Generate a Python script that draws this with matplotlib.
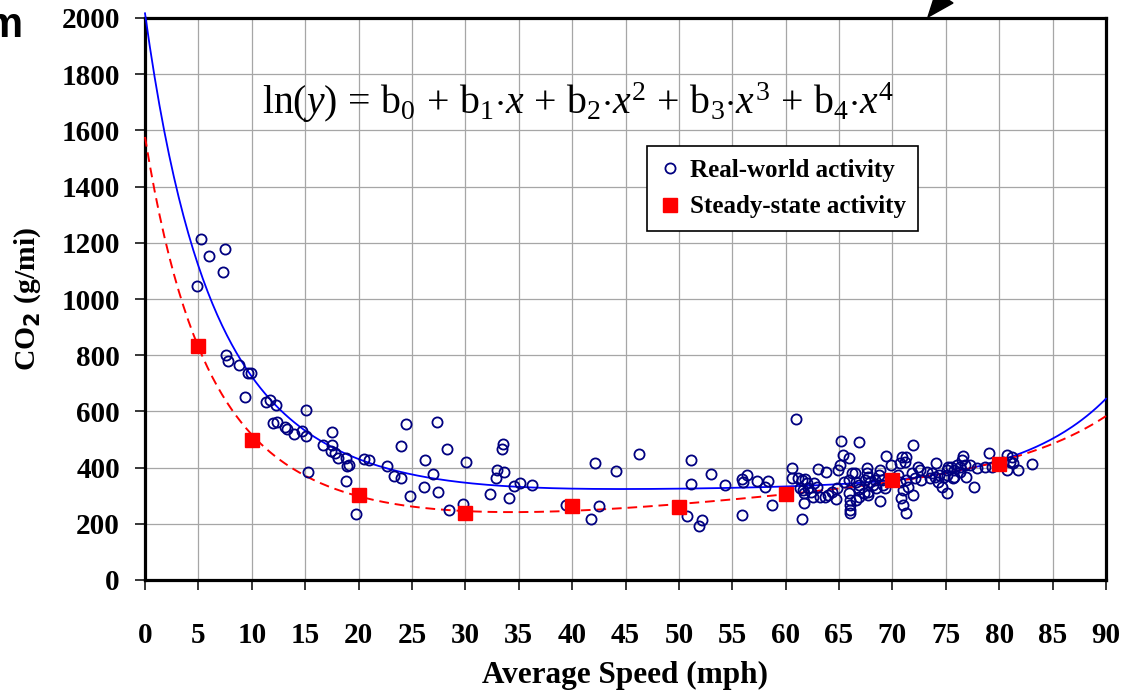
import numpy as np
import matplotlib
matplotlib.use("Agg")
import matplotlib.pyplot as plt
from matplotlib.lines import Line2D
from matplotlib.patches import Polygon

# ---------------- data ----------------
# Real-world activity (open circles)
rw_speed = [5.2, 6.0, 7.5, 7.3, 4.9, 7.6, 7.8, 8.8, 9.6, 9.9, 9.4, 11.3, 11.7, 12.3, 15.1,
            12.0, 12.4, 13.1, 13.3, 14.0, 14.7, 15.1, 17.5, 16.7, 17.5, 17.4, 17.8, 18.1,
            18.8, 18.9, 19.1, 15.3, 18.8, 19.8, 20.5, 21.0, 22.7, 23.3, 24.0, 24.0, 24.4,
            26.2, 27.0, 24.8, 26.1, 27.4, 27.3, 28.3, 30.1, 28.5, 29.8, 32.3,
            33.5, 33.4, 33.0, 33.6, 32.9, 34.1, 34.6, 35.1, 36.2, 39.4, 42.1, 42.5, 41.8,
            44.1, 46.3, 51.1, 51.1, 53.0, 50.8, 52.2, 51.9, 54.3, 55.9, 56.0, 56.4, 57.3,
            55.9, 58.3, 58.1, 58.7,
            61.0, 65.2, 66.9, 65.4, 65.9, 65.1, 64.9, 63.0, 63.8, 60.6, 60.6, 61.2, 61.5,
            61.8, 62.0, 62.7, 62.9, 61.3, 61.6, 62.1, 62.4, 61.7, 63.2, 63.7, 64.0, 64.3,
            64.8, 64.7, 61.7, 61.5, 65.5, 65.9, 66.2, 66.5, 65.9, 66.0, 66.0, 66.0, 66.0,
            66.6, 66.9, 67.3, 66.9, 67.4, 67.6, 67.6, 67.9, 67.7, 66.6, 66.9, 62.6,
            71.9, 69.4, 70.9, 71.3, 71.2, 70.7, 69.9, 74.1, 72.4, 72.6, 73.2, 73.7, 74.4,
            74.8, 75.5, 75.1, 68.8, 68.7, 67.7, 68.4, 69.0, 69.1, 68.5, 67.7, 68.8, 70.5,
            70.7, 71.3, 71.8, 72.1, 72.7, 71.5, 71.0, 71.9, 70.8, 71.0, 71.3, 74.3, 74.6,
            75.1, 73.5, 74.0, 69.3, 68.2, 75.7,
            76.6, 76.5, 75.2, 76.0, 76.3, 76.8, 77.3, 77.9, 75.8, 76.3, 75.1, 75.8, 76.9,
            77.6, 79.0, 78.7, 79.3, 80.7, 81.2, 81.0, 81.3, 80.7, 81.8, 83.1, 80.4]
rw_co2 = [1213, 1154, 1178, 1095, 1047, 800, 778, 764, 735, 738, 650, 635, 641, 623, 605,
          560, 562, 546, 537, 520, 531, 514, 525, 479, 479, 458, 451, 435,
          435, 406, 408, 385, 352, 235, 432, 427, 405, 371, 362, 477, 556,
          426, 378, 298, 330, 312, 563, 465, 421, 250, 270, 306,
          485, 465, 393, 384, 362, 291, 335, 345, 338, 268, 417, 264, 218,
          389, 449, 426, 340, 378, 227, 212, 192, 339, 359, 349, 374, 352,
          233, 352, 332, 267,
          572, 493, 491, 445, 433, 409, 391, 394, 384, 397, 362, 362, 356,
          358, 344, 344, 332, 326, 320, 326, 314, 308, 296, 296, 302, 314,
          326, 289, 275, 216, 350, 356, 380, 382, 308, 285, 267, 249, 237,
          285, 296, 308, 338, 356, 397, 380, 350, 302, 350, 323, 296,
          480, 441, 439, 439, 421, 415, 409, 418, 403, 391, 385, 380, 374,
          368, 403, 391, 391, 374, 368, 356, 356, 338, 326, 314, 281, 374,
          350, 356, 380, 362, 356, 332, 320, 302, 291, 267, 240, 350, 332,
          311, 362, 368, 326, 338, 362,
          441, 427, 403, 409, 403, 409, 409, 397, 391, 385, 374, 368, 368,
          332, 451, 403, 403, 445, 439, 421, 415, 391, 391, 412, 421]

# Steady-state activity (red squares)
ss_speed = [5, 10, 20, 30, 40, 50, 60, 70, 80]
ss_co2 = [832, 500, 303, 240, 265, 260, 305, 357, 412]

# Points (ln(y) = quartic in x)
curve_x = [0, 5, 10, 15, 20, 25, 30, 35, 40, 45, 50, 55, 60, 65, 70, 75, 80, 85, 90]
rw_curve_y = [2020, 1120, 723, 523, 434, 380, 345, 331, 325, 324, 325, 328, 332, 340,
              356, 382, 421, 510, 641]
ss_curve_y = [1580, 840, 505, 370, 300, 262, 243, 244, 252, 258, 266, 283, 302, 325,
              352, 385, 420, 490, 578]

x_ticks = list(range(0, 95, 5))
y_ticks = list(range(0, 2200, 200))

# ---------------- figure ----------------
W, H = 1121, 694
fig = plt.figure(figsize=(W / 100, H / 100), dpi=100)
ax = fig.add_axes([145 / W, 1 - 580 / H, (1106 - 145) / W, (580 - 18) / H])

serif = "Liberation Serif"
plt.rcParams["mathtext.fontset"] = "custom"
plt.rcParams["mathtext.rm"] = serif
plt.rcParams["mathtext.it"] = serif + ":italic"
plt.rcParams["mathtext.bf"] = serif + ":bold"

# fitted curves
xx = np.linspace(0, 90, 400)
c_rw = np.polyfit(curve_x, np.log(rw_curve_y), 4)
c_ss = np.polyfit(curve_x, np.log(ss_curve_y), 4)
ax.plot(xx, np.exp(np.polyval(c_rw, xx)), color="#0000ff", lw=1.3, zorder=3, clip_on=False)
ax.plot(xx, np.exp(np.polyval(c_ss, xx)), color="#ff0000", lw=1.4, ls=(0, (5, 3)), zorder=3,
        clip_on=False)

ax.plot(rw_speed, rw_co2, ls="none", marker="o", ms=7.3, mfc="none", mec="#000080",
        mew=1.3, zorder=4)
ax.plot(ss_speed, ss_co2, ls="none", marker="s", ms=10, mfc="#ff0000", mec="#ff0000",
        zorder=5)

ax.set_xlim(0, 90)
ax.set_ylim(0, 2000)
ax.set_xticks(x_ticks)
ax.set_yticks(y_ticks)
ax.grid(True, color="#a6a6a6", lw=0.9, zorder=0)
ax.set_axisbelow(True)
for s in ax.spines.values():
    s.set_linewidth(2.3)
    s.set_color("black")
ax.tick_params(axis="both", direction="out", length=7, width=1.1, color="black")
ax.tick_params(axis="x", pad=23)
ax.tick_params(axis="y", pad=11)
for lab in ax.get_xticklabels() + ax.get_yticklabels():
    lab.set_fontfamily(serif)
    lab.set_fontweight("bold")
    lab.set_fontsize(21)

ax.set_xlabel("Average Speed (mph)", fontfamily=serif, fontweight="bold", fontsize=22.5,
              labelpad=9)
ax.set_ylabel(r"CO$_\mathbf{2}$ (g/mi)", fontfamily=serif, fontweight="bold", fontsize=21.3,
              labelpad=13)

ax.text((262 - 145) / 961, (580 - 103) / 562,
        r"$\mathrm{ln}(\mathit{y})\,=\,\mathrm{b}_0\,+\,\mathrm{b}_1{\cdot}\mathit{x}\,+\,"
        r"\mathrm{b}_2{\cdot}\mathit{x}^2\,+\,\mathrm{b}_3{\cdot}\mathit{x}^3\,+\,"
        r"\mathrm{b}_4{\cdot}\mathit{x}^4$",
        transform=ax.transAxes, ha="left", va="center", fontsize=28.6, zorder=6)

handles = [
    Line2D([], [], ls="none", marker="o", ms=7.3, mfc="none", mec="#000080", mew=1.3),
    Line2D([], [], ls="none", marker="s", ms=10, mfc="#ff0000", mec="#ff0000"),
]
leg = ax.legend(handles, ["Real-world activity", "Steady-state activity"],
                loc="upper left", bbox_to_anchor=((647 - 145) / 961, (580 - 146) / 562),
                borderaxespad=0,
                prop={"family": serif, "weight": "bold", "size": 18},
                frameon=True, fancybox=False, framealpha=1, edgecolor="black",
                handlelength=0.8, handletextpad=0.4, borderpad=0.5, labelspacing=0.55)
leg.get_frame().set_linewidth(1.2)
leg.set_zorder(7)

# cropped fragments at the image edges
fig.text(22 / W, 1 - 26 / H, "m", ha="right", va="center", fontsize=30,
         fontfamily="Liberation Sans", fontweight="bold")
tri = Polygon([(928 / W, 1 - 17 / H), (953 / W, 1 - 3 / H), (936 / W, 1 + 8 / H)],
              closed=True, transform=fig.transFigure, color="black", clip_on=False)
fig.patches.append(tri)

fig.savefig("out.png", dpi=100)
